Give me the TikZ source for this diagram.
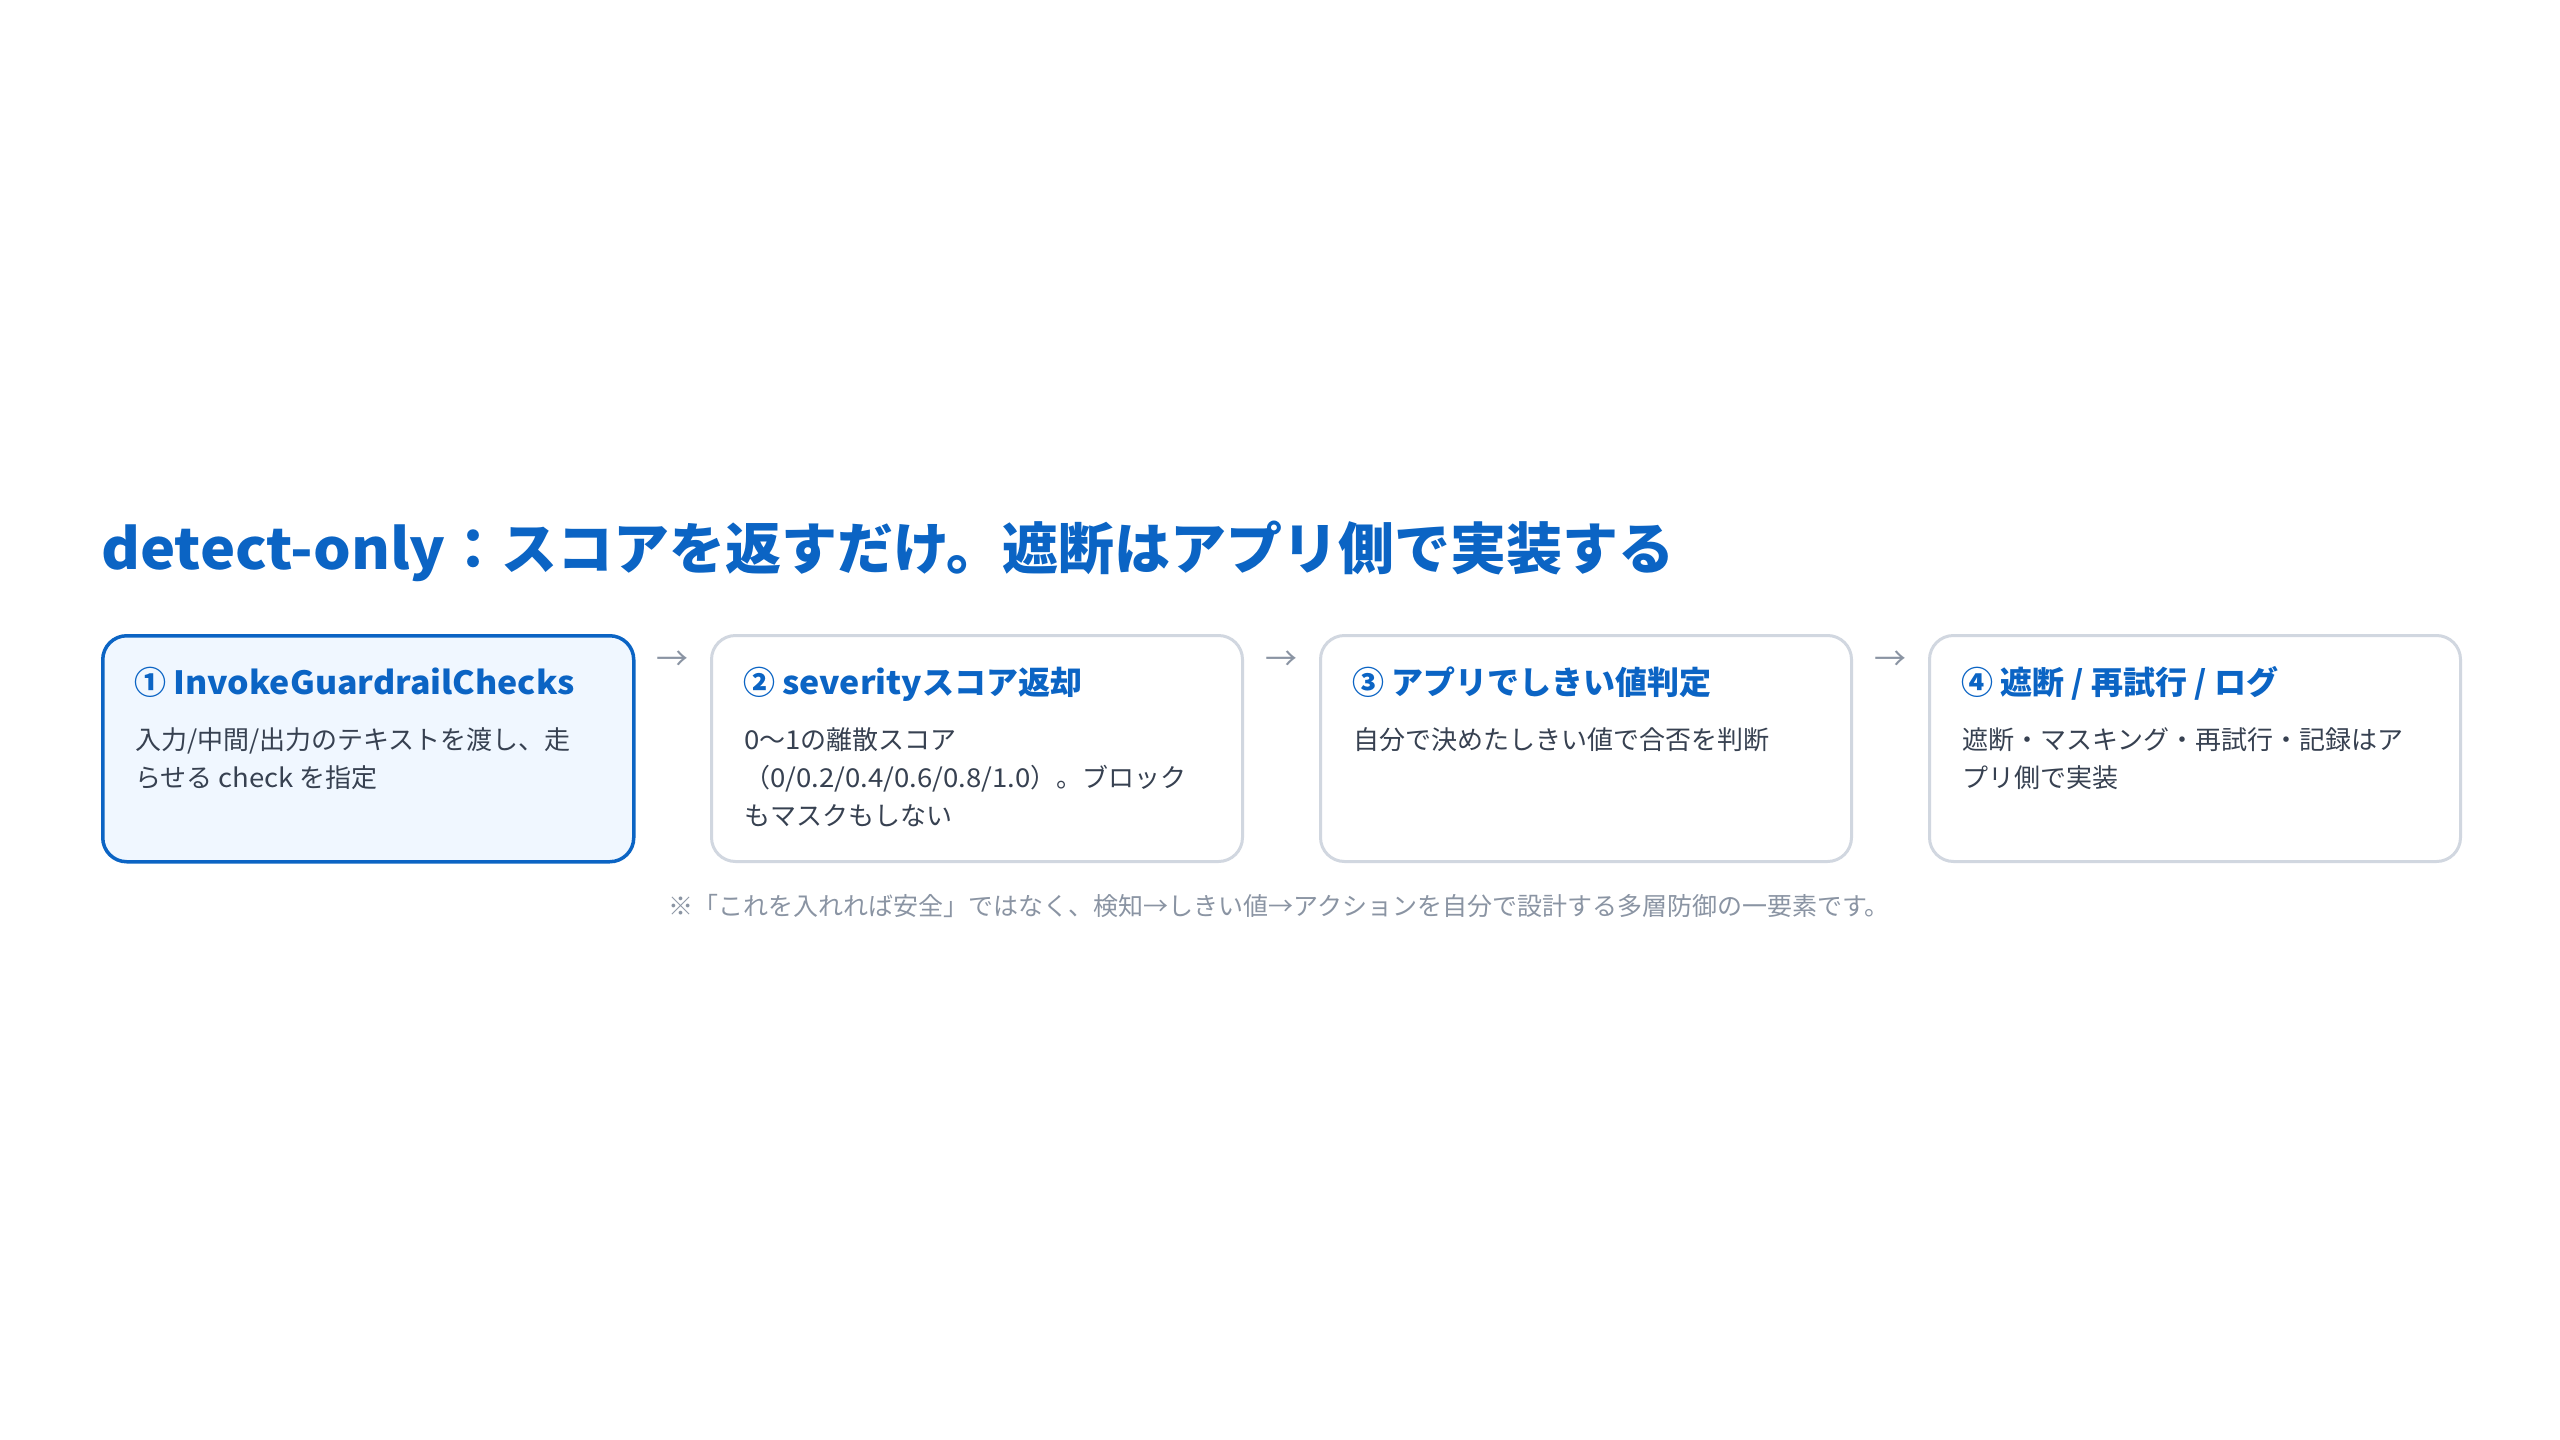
\documentclass[tikz,border=0pt]{standalone}
\usepackage{fontspec}
\setmainfont{Noto Sans CJK JP}
\usetikzlibrary{calc}
\definecolor{brandblue}{HTML}{0B64C4}
\definecolor{lightfill}{HTML}{F0F7FF}
\definecolor{graybord}{HTML}{D1D7E0}
\definecolor{bodytext}{HTML}{374151}
\definecolor{notegray}{HTML}{8A94A3}
\newcommand\latwide[1]{{\addfontfeature{FakeStretch=1.06}#1}}
\begin{document}
\begin{tikzpicture}[x=1pt,y=-1pt,
  cardbase/.style={rounded corners=24pt, minimum width=531pt, minimum height=226pt, anchor=north west, inner sep=0pt},
  card/.style={cardbase, draw=graybord, line width=3pt, fill=white},
  activecard/.style={cardbase, draw=brandblue, line width=3.5pt, fill=lightfill},
  cardhead/.style={anchor=base west, inner sep=0pt, text=brandblue, font=\fontsize{32}{38}\selectfont\bfseries},
  cardbody/.style={anchor=base west, inner sep=0pt, text=bodytext, align=left, font=\fontsize{26}{38}\selectfont},
  flowarrow/.style={inner sep=0pt, text=notegray, font=\fontsize{32}{32}\selectfont},
  titletext/.style={anchor=base west, inner sep=0pt, text=brandblue, font=\fontsize{56}{60}\selectfont\bfseries},
  notetext/.style={anchor=base, inner sep=0pt, text=notegray, font=\fontsize{25}{30}\selectfont}]
\useasboundingbox (0,0) rectangle (2560,1440);
\fill[white] (0,0) rectangle (2560,1440);

\node[titletext] (title) at (101,569) {\latwide{detect-only}：スコアを返すだけ。遮断はアプリ側で実装する};

\node[activecard] (c1) at (101,634) {};
\node[card] (c2) at (710,634) {};
\node[card] (c3) at (1319,634) {};
\node[card] (c4) at (1928,634) {};

\node[cardhead] (h1) at ($(c1.north west)+(33,60)$) {① \latwide{InvokeGuardrailChecks}};
\node[cardhead] (h2) at ($(c2.north west)+(33,60)$) {② \latwide{severity}スコア返却};
\node[cardhead] (h3) at ($(c3.north west)+(33,60)$) {③ アプリでしきい値判定};
\node[cardhead] (h4) at ($(c4.north west)+(33,60)$) {④ 遮断 / 再試行 / ログ};

\node[cardbody] (b1) at ($(c1.north west)+(34,153)$) {入力/中間/出力のテキストを渡し、走\\らせる \latwide{check} を指定};
\node[cardbody] (b2) at ($(c2.north west)+(34,191)$) {\latwide{0}〜\latwide{1}の離散スコア\\（\latwide{0/0.2/0.4/0.6/0.8/1.0}）。ブロック\\もマスクもしない};
\node[cardbody] (b3) at ($(c3.north west)+(34,115)$) {自分で決めたしきい値で合否を判断};
\node[cardbody] (b4) at ($(c4.north west)+(34,153)$) {遮断・マスキング・再試行・記録はア\\プリ側で実装};

\node[flowarrow] (a12) at ($($(c1.north east)!0.5!(c2.north west)$)+(0,27)$) {→};
\node[flowarrow] (a23) at ($($(c2.north east)!0.5!(c3.north west)$)+(0,27)$) {→};
\node[flowarrow] (a34) at ($($(c3.north east)!0.5!(c4.north west)$)+(0,27)$) {→};

\node[notetext] (note) at (1279,915) {※「これを入れれば安全」ではなく、検知→しきい値→アクションを自分で設計する多層防御の一要素です。};
\end{tikzpicture}
\end{document}
